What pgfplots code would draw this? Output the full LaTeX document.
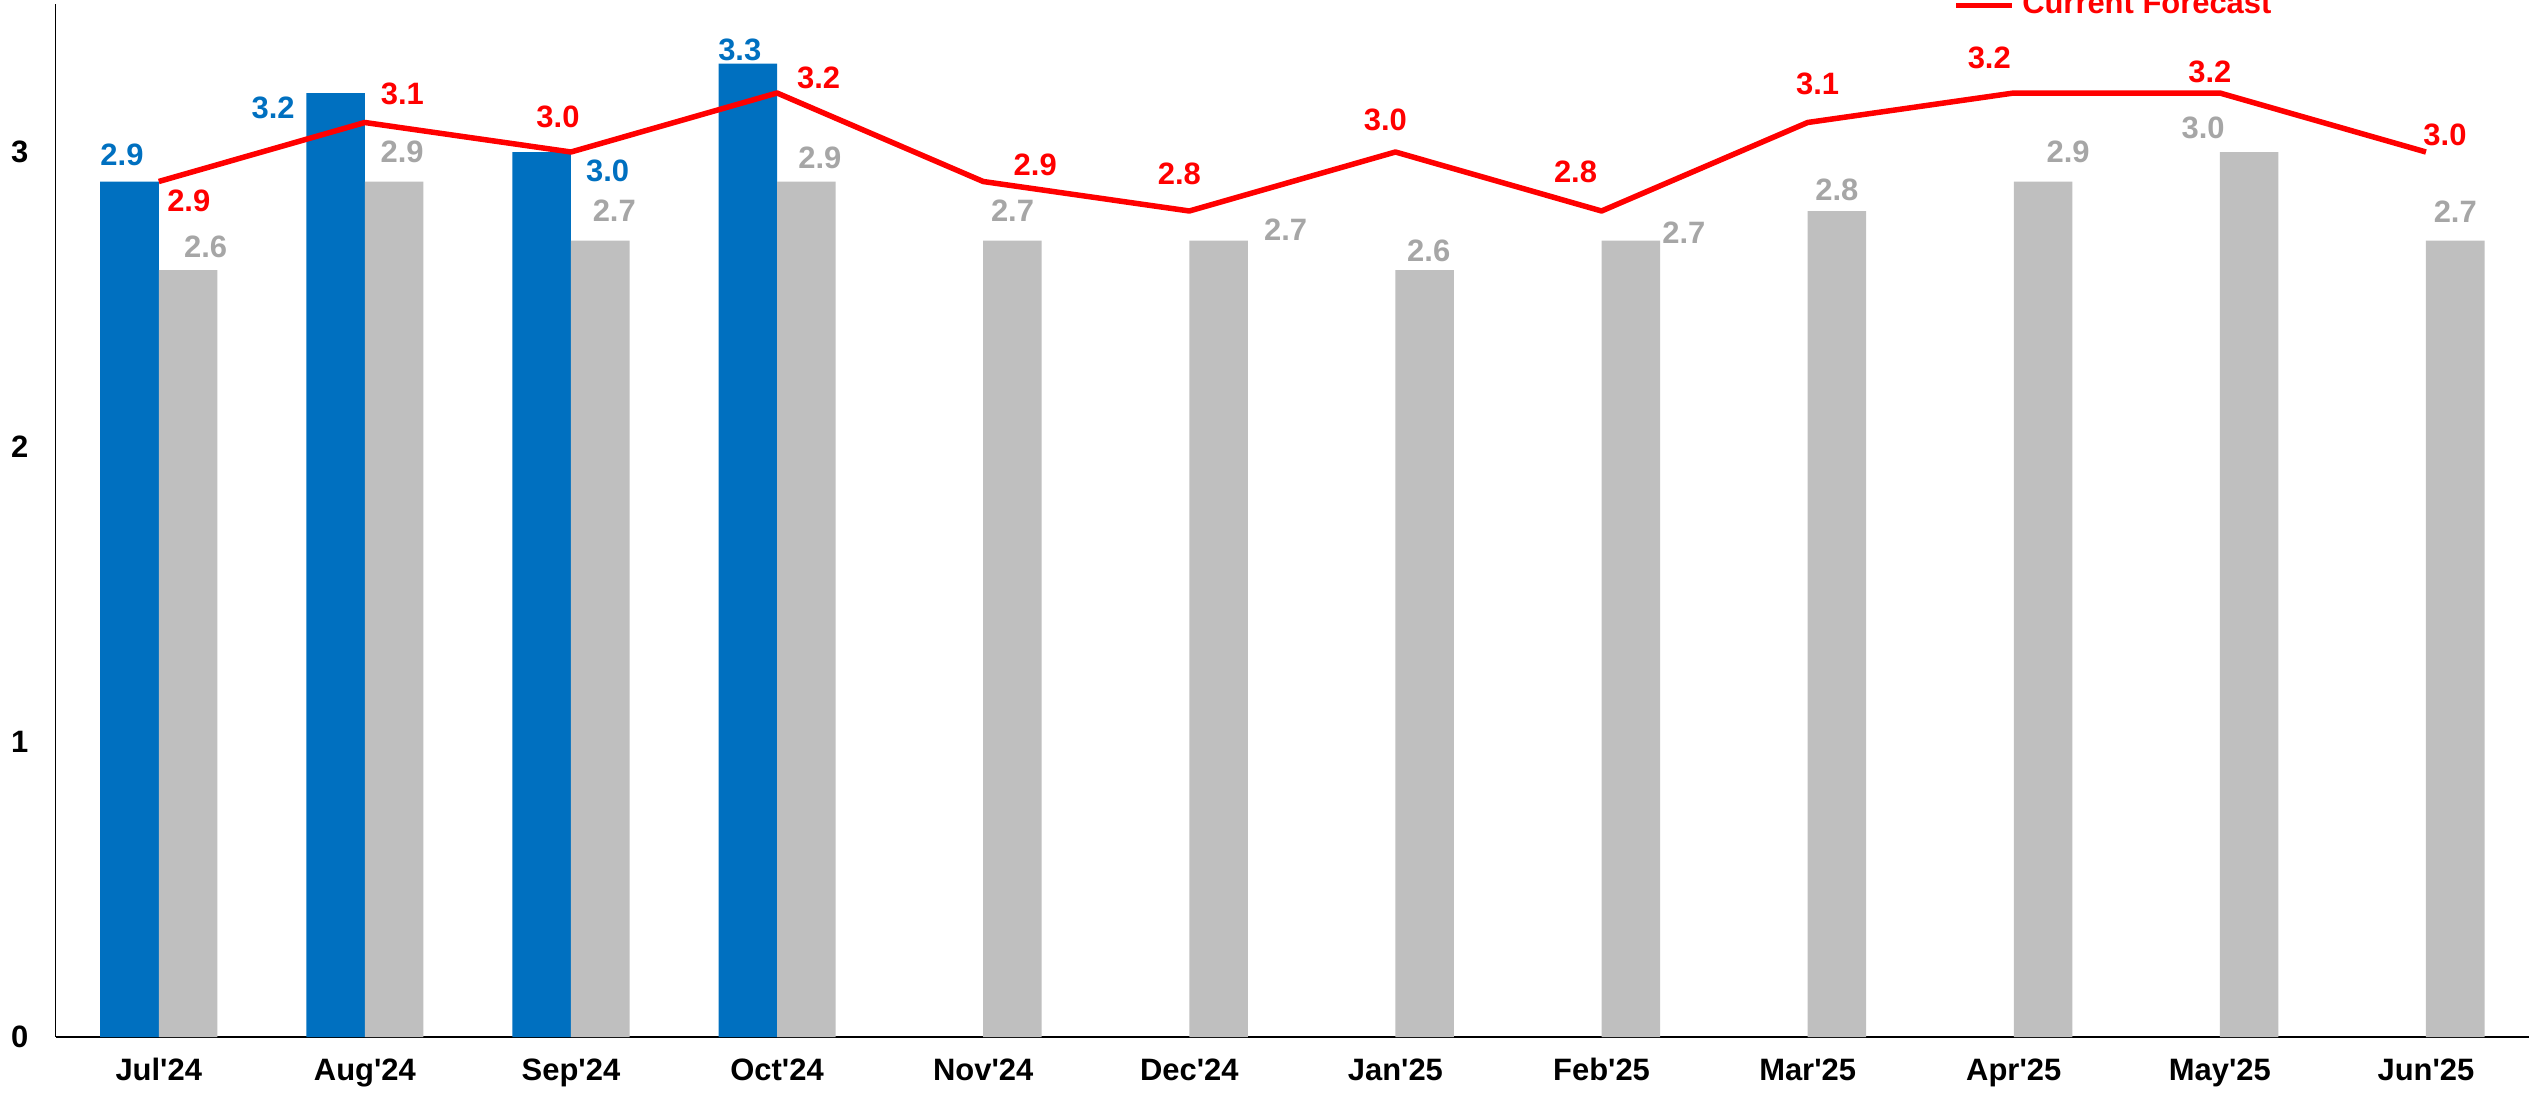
\documentclass[border=0pt]{standalone}
\usepackage{fontspec}
\setmainfont{Liberation Sans}[Ligatures=TeXOff]
\usepackage{pgfplots}
\pgfplotsset{compat=1.18}
\usepackage{pgfplotstable}
\definecolor{actblue}{HTML}{0070C0}
\definecolor{prevgray}{HTML}{BFBFBF}
\definecolor{labgray}{HTML}{A6A6A6}
\definecolor{fcred}{HTML}{FF0000}

% dx, dy: label offsets (mm) from the plotted point
\pgfplotstableread{
x y dx dy
0 2.9 -3.68 2.7
1 3.2 -9.18 -1.5
2 3.0 3.67 -1.9
3 3.3 -3.73 1.4
}\actual

\pgfplotstableread{
x y dx dy
0 2.6 4.68 2.3
1 2.9 3.73 3.0
2 2.7 4.33 2.95
3 2.9 4.28 2.4
4 2.7 2.93 3.0
5 2.7 9.63 1.05
6 2.6 3.33 1.9
7 2.7 8.23 0.8
8 2.8 2.93 2.1
9 2.9 5.43 3.0
10 3.0 -1.67 2.4
11 2.7 2.93 2.9
}\previous

\pgfplotstableread{
x y dx dy
0 2.9 3.0 -1.9
1 3.1 3.75 2.85
2 3.0 -1.3 3.55
3 3.2 4.15 1.5
4 2.9 5.2 1.7
5 2.8 -1.0 3.75
6 3.0 -1.0 3.25
7 2.8 -2.6 3.9
8 3.1 1.0 3.9
9 3.2 -2.45 3.55
10 3.2 -1.0 2.1
11 3.0 1.9 1.7
}\current

\newcommand{\labfont}{\fontsize{8.8}{10}\selectfont\bfseries}

\begin{document}
\begin{tikzpicture}
\begin{axis}[
  at={(0,0)}, anchor=south west,
  scale only axis, width=247.33mm, height=103.25mm,
  xmin=-0.5, xmax=11.5, ymin=0, ymax=3.5,
  axis x line=bottom, axis y line=left,
  axis line style={-},
  x axis line style={line width=0.6pt},
  y axis line style={line width=0.4pt},
  ytick={0,1,2,3},
  xtick={0,...,11},
  xticklabels={Jul'24,Aug'24,Sep'24,Oct'24,Nov'24,Dec'24,Jan'25,Feb'25,Mar'25,Apr'25,May'25,Jun'25},
  major tick length=0pt,
  tick label style={font=\labfont},
  yticklabel style={xshift=-1.5mm},
  xticklabel style={yshift=-0.9mm},
  /pgf/number format/assume math mode=true,
  clip=false,
  legend style={draw=none, fill=none, at={(0.7674,0.9992)}, anchor=west, inner sep=0pt, outer sep=0pt, font=\labfont},
  legend image code/.code={\draw[#1] (0mm,0mm) -- (5.6mm,0mm);},
]
\pgfplotsset{
  lab/.style={
    nodes near coords={\pgfmathprintnumber[fixed,fixed zerofill,precision=1,assume math mode=true]{\pgfplotspointmeta}},
    point meta=y,
    visualization depends on={\thisrow{dx}\as\mydx},
    visualization depends on={\thisrow{dy}\as\mydy},
    every node near coord/.append style={anchor=center, xshift=\mydx mm, yshift=\mydy mm, font=\labfont, text=#1},
  }
}
\addplot[ybar, bar width=0.284, bar shift=-0.142, fill=actblue, draw=none, forget plot, lab=actblue]
  table[x=x, y=y]{\actual};
\addplot[ybar, bar width=0.284, bar shift=0.142, fill=prevgray, draw=none, forget plot, lab=labgray]
  table[x=x, y=y]{\previous};
\addplot[fcred, line width=0.55mm, line join=round, mark=none, lab=fcred]
  table[x=x, y=y]{\current};
\addlegendentry{\textcolor{fcred}{Current Forecast}}
\end{axis}
\pgfresetboundingbox
\path (-5.57mm,-5.9mm) rectangle (247.33mm,103.7mm);
\end{tikzpicture}
\end{document}
